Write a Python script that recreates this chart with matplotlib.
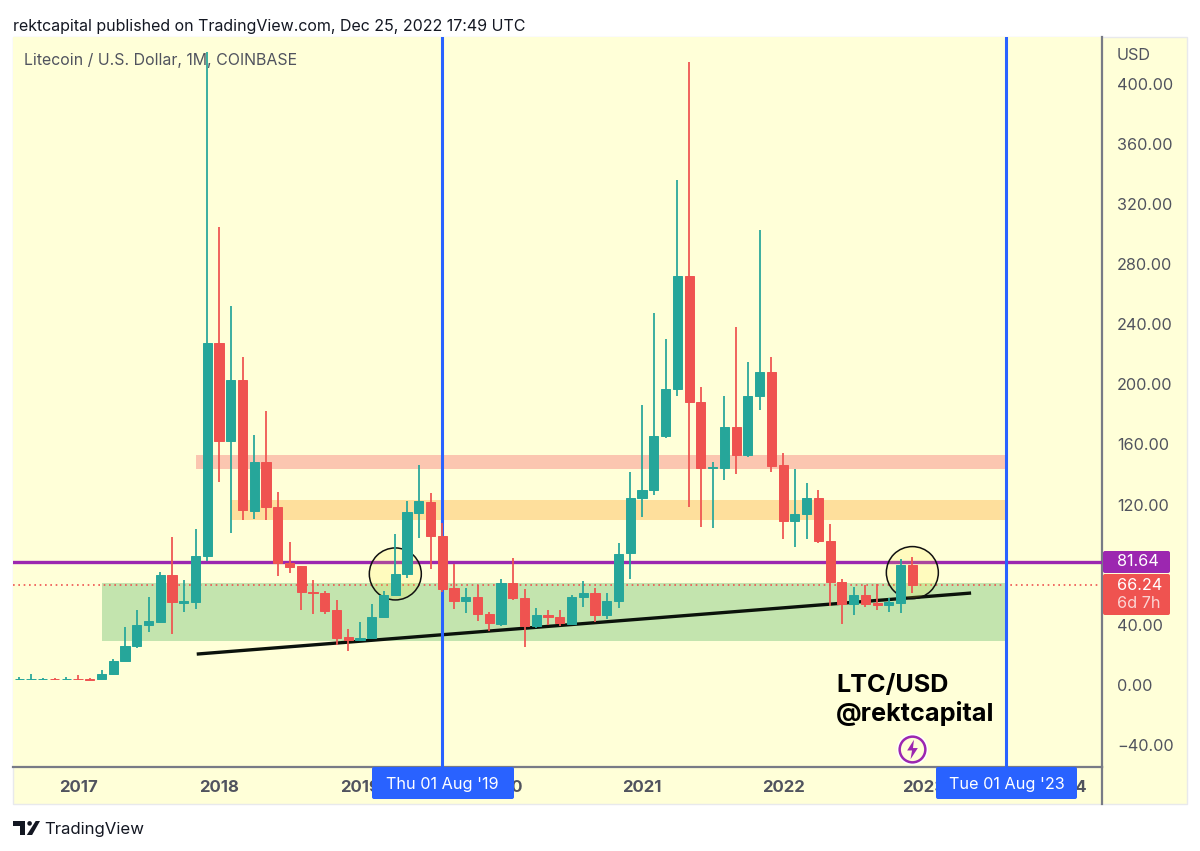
import matplotlib
matplotlib.use('Agg')
import matplotlib.pyplot as plt
from matplotlib.patches import Ellipse, FancyBboxPatch, Polygon, Rectangle, Circle
from matplotlib.path import Path

plt.rcParams['font.family'] = ['Inter', 'DejaVu Sans']

# monthly candles, first one is Aug 2016
opens = [3.7, 3.7, 3.8, 4.0, 3.8, 4.2, 3.9, 3.8, 7.1, 15.9, 25.7, 39.7, 41.7, 73.2, 54.8, 55.2,
         85.8, 227.7, 162.1, 202.6, 116, 148.6, 118.6, 81.4, 79.2, 62, 61.2, 49.6, 31.7, 29.7, 31, 45.2,
         59.9, 73.8, 114.2, 121.9, 99.3, 64.3, 56.1, 58.5, 47.2, 40.8, 67.6, 58, 39.2, 46.5, 45.5, 40.8,
         58.3, 61, 46.3, 55.9, 88, 124.6, 129.7, 165.6, 196.9, 271.8, 188, 144.5, 144.6, 171.6, 153, 192.2,
         208.2, 146.5, 109.3, 114, 124.2, 96, 68.3, 53.9, 59.6, 54.3, 53.4, 54.8, 79.6]
highs = [5.3, 7.6, 4.4, 4.4, 5.3, 6.6, 4.4, 9.8, 17.1, 38.8, 49.9, 58.3, 74.9, 98.4, 69.8, 103.5,
         421, 304.8, 252, 217.9, 166.3, 182.5, 128.4, 94.9, 79.4, 69.8, 62.3, 56.3, 37, 41.7, 53.6, 62.3,
         100.2, 122.2, 146.3, 127.5, 107.5, 80.5, 64.5, 66.7, 48.8, 70.3, 84.25, 63.9, 51, 49.9, 49.9, 59.6,
         69.2, 64.5, 61.2, 94.2, 142, 186, 247.2, 230.2, 335.9, 414.4, 198, 148.1, 192, 238.1, 215, 302.6,
         218.2, 154, 143.9, 134.1, 129.7, 107.1, 70.3, 65, 66.3, 67.4, 57.6, 83.6, 85.1]
lows = [3.3, 3.3, 3.4, 3.4, 3.4, 3.4, 3.3, 3.6, 7.0, 15.8, 24.8, 35, 41, 33.7, 48.3, 50.8,
        82.5, 135.2, 100.9, 109.7, 110.4, 110, 72.5, 74.7, 49.9, 47.4, 47.4, 26.6, 22.6, 29.3, 30.8, 45,
        59.7, 70.9, 97.8, 77.4, 62, 50.8, 47.7, 42.8, 36.1, 39, 56.8, 25.5, 37.7, 39.7, 39.2, 40.3,
        52.1, 41.7, 43.7, 51.4, 70.3, 111.5, 126.4, 164.1, 192.5, 118.2, 105.3, 104.2, 136.4, 140.1, 151.9, 182.7,
        141.9, 96.9, 92, 96.9, 94.7, 52.5, 40.6, 46.6, 52.1, 49.9, 48.3, 47.9, 61.2]
closes = [4.0, 4.1, 4.0, 3.7, 4.2, 3.8, 3.6, 7.1, 15.9, 25.7, 39.7, 42.3, 73.2, 55.2, 55.6, 85.8,
          227.7, 162.1, 202.6, 116.4, 148.6, 118.2, 81.4, 78.7, 61.9, 61, 49.4, 31.5, 29.9, 31, 45.5, 60.1,
          73.8, 114.8, 122.4, 99.3, 64.1, 56.1, 58.3, 47.2, 41, 67.6, 58, 39.2, 46.3, 45.5, 41, 58.5,
          61.2, 46.3, 55.9, 87.4, 124.6, 129.7, 165.9, 197.1, 271.8, 188, 144.4, 145, 171.6, 153, 192.2, 208.2,
          145.9, 109.3, 114, 124.2, 96, 68.3, 53.9, 59.6, 53.9, 53.4, 55, 79.6, 66.24]

price_ticks = [-40, 0, 40, 80, 120, 160, 200, 240, 280, 320, 360, 400]
price_labels = ['\u221240.00', '0.00', '40.00', '', '120.00', '160.00', '200.00', '240.00',
                '280.00', '320.00', '360.00', '400.00']
year_ticks = [5, 17, 29, 41, 53, 65, 77, 89]
year_labels = ['2017', '2018', '2019', '2020', '2021', '2022', '2023', '2024']

level = 81.64
last_price = 66.24
aug_lines = [36, 84]
# zones: start month, end month, low, high
green_zone = (7, 84, 29.3, 67.6)
pink_zone = (15, 84, 143.7, 153)
orange_zone = (18, 84, 109.8, 123)
trend_x = [15.1, 81]
trend_y = [20.6, 61.2]
circle_x = [32, 76]
circle_y = [73.9, 74.8]

GREEN = '#26A69A'
RED = '#EF5350'
PURPLE = '#9C27B0'
BLUE = '#2962FF'
BG = '#FFFFD8'
GREY = '#50535E'

fig = plt.figure(figsize=(12, 8.51), dpi=100, facecolor='white')

# pixel coordinates for everything around the chart
bg = fig.add_axes([0, 0, 1, 1], zorder=0)
bg.set_xlim(0, 1200)
bg.set_ylim(851, 0)
bg.axis('off')
bg.add_patch(Rectangle((13, 37), 1174, 767, fc=BG, ec='#E8E9EC', lw=1))

ax = fig.add_axes([13 / 1200, 1 - 767 / 851, 1089 / 1200, 730 / 851], zorder=1)
ax.set_facecolor(BG)
ax.set_xlim(-0.536, 92.14)
ax.set_ylim(-54.5, 431)

for zone, col in [(green_zone, '#C3E4AE'), (pink_zone, '#FBC6B0'), (orange_zone, '#FEDF9C')]:
    ax.add_patch(Rectangle((zone[0], zone[2]), zone[1] - zone[0], zone[3] - zone[2], fc=col, ec='none', zorder=1))

ax.axhline(last_price, color=RED, lw=1.2, ls=(0, (1, 2.2)), zorder=2)
ax.axhline(level, color=PURPLE, lw=2.4, zorder=3)
ax.plot(trend_x, trend_y, color='#0B120B', lw=2.4, solid_capstyle='butt', zorder=4)

for cx, cy in zip(circle_x, circle_y):
    ax.add_patch(Ellipse((cx, cy), 52 / 11.75, 52 / 1.5035, fc=(1, 0.92, 0.23, 0.16), ec='#111111', lw=1.1, zorder=5))

for x in aug_lines:
    ax.axvline(x, color=BLUE, lw=2.2, zorder=6)

# candles sit on top of the drawings
for i in range(len(opens)):
    col = GREEN if closes[i] >= opens[i] else RED
    ax.vlines(i, lows[i], highs[i], color=col, lw=1.4, alpha=0.9, zorder=7)
    ax.bar(i, abs(closes[i] - opens[i]), bottom=min(opens[i], closes[i]), width=0.78,
           color=col, edgecolor=col, lw=0.7, zorder=8)

ax.text(69.5, 0, 'LTC/USD', color='black', fontsize=18.2, fontweight='bold', va='center', zorder=9)
ax.text(69.5, -18.6, '@rektcapital', color='black', fontsize=18.2, fontweight='bold', va='center', zorder=9)

# lightning badge
bolt = Path([(0.15, 1), (-0.55, -0.1), (-0.05, -0.1), (-0.2, -1), (0.55, 0.15), (0.05, 0.15), (0.15, 1)], closed=True)
ax.plot([76], [-42.6], marker='o', ms=21, mfc=BG, mec='white', mew=1.5, zorder=9)
ax.plot([76], [-42.6], marker='o', ms=18.5, mfc=BG, mec=PURPLE, mew=1.8, zorder=9)
ax.plot([76], [-42.6], marker=bolt, ms=14, mfc=PURPLE, mec=PURPLE, mew=0, zorder=10)

for s in ['top', 'left']:
    ax.spines[s].set_visible(False)
for s in ['right', 'bottom']:
    ax.spines[s].set_color('#787B86')
    ax.spines[s].set_linewidth(1.6)

ax.yaxis.tick_right()
ax.set_yticks(price_ticks)
ax.set_yticklabels(price_labels, fontsize=11.7, color=GREY)
ax.tick_params(axis='y', length=0, pad=10.8)
ax.set_xticks(year_ticks)
ax.set_xticklabels(year_labels, fontsize=12, color=GREY, fontweight='bold')
ax.tick_params(axis='x', length=0, pad=9)

over = fig.add_axes([0, 0, 1, 1], zorder=2)
over.set_xlim(0, 1200)
over.set_ylim(851, 0)
over.axis('off')
over.patch.set_alpha(0)

over.plot([1102, 1102], [767, 804], color='#787B86', lw=1.6)
over.text(13, 26, 'rektcapital published on TradingView.com, Dec 25, 2022 17:49 UTC', fontsize=11.5, color='#131722', va='center')
over.text(24, 61, 'Litecoin / U.S. Dollar, 1M, COINBASE', fontsize=11.45, color=GREY, va='center')
over.text(1117, 55.5, 'USD', fontsize=11.7, color=GREY, va='center')


def box(x0, y0, x1, y1, col):
    over.add_patch(FancyBboxPatch((x0 + 1, y0 + 1), x1 - x0 - 2, y1 - y0 - 2, boxstyle='round,pad=1,rounding_size=2',
                                  fc=col, ec='none'))


box(1103, 551, 1170, 573, PURPLE)
box(1103, 574, 1170, 615, RED)
over.text(1117, 562, '81.64', fontsize=11.7, color='white', va='center')
over.text(1117, 585, '66.24', fontsize=11.7, color='white', va='center')
over.text(1117, 603, '6d 7h', fontsize=11.7, color='#FFFFFF', alpha=0.75, va='center')

box(372, 767, 514, 799, BLUE)
box(936, 767, 1077, 799, BLUE)
over.text(442, 785, "Thu 01 Aug '19", fontsize=11.7, color='white', ha='center', va='center')
over.text(1006.5, 785, "Tue 01 Aug '23", fontsize=11.7, color='white', ha='center', va='center')

# TradingView logo
over.add_patch(Polygon([(13.2, 821), (25, 821), (25, 835), (19.6, 835), (19.6, 825.5), (13.2, 825.5)], fc='#131722', ec='none'))
over.add_patch(Circle((29.6, 823.4), 2.3, fc='#131722', ec='none'))
over.add_patch(Polygon([(35.7, 821), (40, 821), (32.1, 835), (26.8, 835)], fc='#131722', ec='none'))
over.text(44, 829.5, 'TradingView', fontsize=12.1, color='#131722', va='center')

fig.savefig('out.png', dpi=100)
